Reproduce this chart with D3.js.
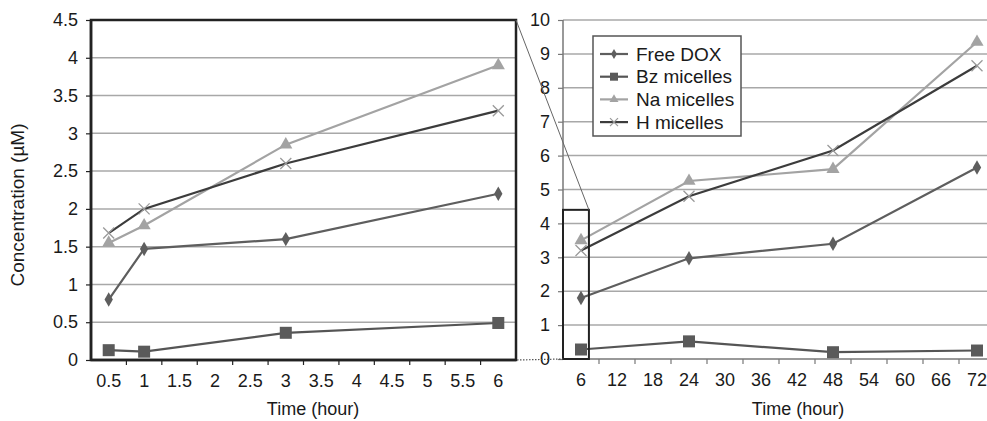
<!DOCTYPE html>
<html>
<head>
<meta charset="utf-8">
<script src="https://cdn.jsdelivr.net/npm/d3@7"></script>
<style>
  body { margin: 0; background: #fff; }
  svg { display: block; font-family: "Liberation Sans", Arial, sans-serif; }
  .tick text { fill: #1a1a1a; }
</style>
</head>
<body>
<div id="chart"></div>
<script>
// categories on each panel (Excel-style category axes)
const leftCats = ["0.5","1","1.5","2","2.5","3","3.5","4","4.5","5","5.5","6"];
const rightCats = ["6","12","18","24","30","36","42","48","54","60","66","72"];

// sampled time points
const leftTimes = ["0.5","1","3","6"];
const rightTimes = ["6","24","48","72"];

// concentrations (uM)
const freeDoxLeft = [0.8, 1.47, 1.6, 2.2];
const bzLeft      = [0.13, 0.11, 0.36, 0.49];
const naLeft      = [1.55, 1.78, 2.85, 3.9];
const hLeft       = [1.68, 2.0, 2.6, 3.3];

const freeDoxRight = [1.8, 2.97, 3.4, 5.65];
const bzRight      = [0.28, 0.52, 0.2, 0.25];
const naRight      = [3.5, 5.25, 5.6, 9.35];
const hRight       = [3.2, 4.8, 6.15, 8.65];

const seriesNames = ["Free DOX", "Bz micelles", "Na micelles", "H micelles"];

const leftYTicks = [0,0.5,1,1.5,2,2.5,3,3.5,4,4.5];
const rightYTicks = [0,1,2,3,4,5,6,7,8,9,10];

const styles = [
  {line: "#5e5e5e", marker: "diamond", fill: "#5e5e5e", w: 2.2},
  {line: "#555555", marker: "square",  fill: "#5a5a5a", w: 2.2},
  {line: "#a3a3a3", marker: "triangle",fill: "#a3a3a3", w: 2.2},
  {line: "#3c3c3c", marker: "cross",   fill: "#9a9a9a", w: 2.2}
];

const W = 987, H = 421;
const svg = d3.select("#chart").append("svg")
    .attr("width", W).attr("height", H);

svg.append("rect").attr("width", W).attr("height", H).attr("fill", "#fff");

function drawMarker(g, type, x, y, fill) {
  if (type === "diamond") {
    g.append("path").attr("d", d3.symbol(d3.symbolDiamond, 60)())
      .attr("transform", `translate(${x},${y})`).attr("fill", fill);
  } else if (type === "square") {
    g.append("rect").attr("x", x - 6).attr("y", y - 6)
      .attr("width", 12).attr("height", 12).attr("fill", fill);
  } else if (type === "triangle") {
    g.append("path").attr("d", d3.symbol(d3.symbolTriangle, 75)())
      .attr("transform", `translate(${x},${y})`).attr("fill", fill);
  } else {
    g.append("path").attr("d", `M${x-5.5},${y-5.5}L${x+5.5},${y+5.5}M${x-5.5},${y+5.5}L${x+5.5},${y-5.5}`)
      .attr("stroke", fill).attr("stroke-width", 1.3).attr("fill", "none");
  }
}

function panel(opts) {
  const x = d3.scaleBand().domain(opts.cats).range(opts.xr).paddingInner(0).paddingOuter(0);
  const y = d3.scaleLinear().domain(opts.yd).range([opts.y0, opts.y1]);
  const g = svg.append("g");

  // gridlines
  g.append("g").selectAll("line").data(opts.yTicks.filter(d => d > 0)).enter().append("line")
    .attr("x1", opts.xr[0]).attr("x2", opts.xr[1])
    .attr("y1", d => y(d)).attr("y2", d => y(d))
    .attr("stroke", "#a8a8a8").attr("stroke-width", 1.5);

  const yAxis = d3.axisLeft(y).tickValues(opts.yTicks).tickSize(5).tickPadding(8)
    .tickFormat(d3.format(""));
  const gy = g.append("g").attr("transform", `translate(${opts.xr[0]},0)`).call(yAxis);
  gy.select(".domain").remove();
  gy.selectAll(".tick line").attr("stroke", opts.axisColor).attr("stroke-width", 1.2);
  gy.selectAll(".tick text").attr("font-size", 18).attr("font-family", "Liberation Sans, Arial, sans-serif");

  const xAxis = d3.axisBottom(x).tickSize(0).tickPadding(14);
  const gx = g.append("g").attr("transform", `translate(0,${opts.y0})`).call(xAxis);
  gx.select(".domain").remove();
  gx.selectAll(".tick text").attr("font-size", 18).attr("font-family", "Liberation Sans, Arial, sans-serif");
  // category boundary ticks
  g.append("g").selectAll("line").data(opts.cats.slice(1)).enter().append("line")
    .attr("x1", d => x(d)).attr("x2", d => x(d))
    .attr("y1", opts.y0).attr("y2", opts.y0 + 5)
    .attr("stroke", opts.axisColor).attr("stroke-width", 1.2);

  // axis lines
  g.append("line").attr("x1", opts.xr[0]).attr("x2", opts.xr[0])
    .attr("y1", opts.y1).attr("y2", opts.y0)
    .attr("stroke", opts.axisColor).attr("stroke-width", opts.axisW);
  g.append("line").attr("x1", opts.xr[0]).attr("x2", opts.xr[1])
    .attr("y1", opts.y0).attr("y2", opts.y0)
    .attr("stroke", opts.axisColor).attr("stroke-width", opts.axisW);

  const cx = d => x(d) + x.bandwidth() / 2;
  const line = d3.line().x(d => cx(d[0])).y(d => y(d[1]));

  opts.series.forEach((vals, i) => {
    const pts = opts.times.map((t, j) => [t, vals[j]]);
    const s = styles[i];
    g.append("path").datum(pts).attr("d", line)
      .attr("fill", "none").attr("stroke", s.line).attr("stroke-width", s.w);
    pts.forEach(p => drawMarker(g, s.marker, cx(p[0]), y(p[1]), s.fill));
  });

  g.append("text").attr("x", opts.titleX).attr("y", 415)
    .attr("text-anchor", "middle").attr("font-size", 18).attr("fill", "#1a1a1a")
    .text("Time (hour)");

  return {x, y, g};
}

const L = panel({
  cats: leftCats, xr: [91, 516], yd: [0, 4.5], y0: 360, y1: 20,
  yTicks: leftYTicks, times: leftTimes,
  series: [freeDoxLeft, bzLeft, naLeft, hLeft],
  axisColor: "#222", axisW: 2.5, titleX: 313
});

// thick box around the left (zoomed) panel
svg.append("rect").attr("x", 91).attr("y", 20).attr("width", 425).attr("height", 340)
  .attr("fill", "none").attr("stroke", "#222").attr("stroke-width", 2.5);

const R = panel({
  cats: rightCats, xr: [563, 995], yd: [0, 10], y0: 359, y1: 20,
  yTicks: rightYTicks, times: rightTimes,
  series: [freeDoxRight, bzRight, naRight, hRight],
  axisColor: "#777", axisW: 1.5, titleX: 798
});

// zoom box around the first 6 h category of the right panel
const boxL = R.x.range()[0];
const boxR = R.x("6") + R.x.bandwidth() * 0.72;
const boxTop = R.y(4.4);
svg.append("rect").attr("x", boxL).attr("y", boxTop)
  .attr("width", boxR - boxL).attr("height", R.y(0) - boxTop)
  .attr("fill", "none").attr("stroke", "#222").attr("stroke-width", 2);

// connector lines
svg.append("line").attr("x1", 516).attr("y1", 20).attr("x2", boxR).attr("y2", boxTop)
  .attr("stroke", "#666").attr("stroke-width", 1);
svg.append("line").attr("x1", 517).attr("y1", 360).attr("x2", boxL).attr("y2", R.y(0))
  .attr("stroke", "#555").attr("stroke-width", 1.2).attr("stroke-dasharray", "1.5,1.5");

// y title
svg.append("text").attr("transform", "translate(24,205) rotate(-90)")
  .attr("text-anchor", "middle").attr("font-size", 19).attr("fill", "#1a1a1a")
  .text("Concentration (µM)");

// legend
const lg = svg.append("g");
lg.append("rect").attr("x", 593).attr("y", 36).attr("width", 148).attr("height", 100)
  .attr("fill", "#fff").attr("stroke", "#555").attr("stroke-width", 1.5);
seriesNames.forEach((name, i) => {
  const yy = 54 + i * 22.7;
  const s = styles[i];
  lg.append("line").attr("x1", 600).attr("x2", 628).attr("y1", yy).attr("y2", yy)
    .attr("stroke", s.line).attr("stroke-width", s.w);
  const mg = lg.append("g");
  if (s.marker === "square") {
    mg.append("rect").attr("x", 610).attr("y", yy - 4).attr("width", 8).attr("height", 8).attr("fill", s.fill);
  } else if (s.marker === "diamond") {
    mg.append("path").attr("d", d3.symbol(d3.symbolDiamond, 30)()).attr("transform", `translate(614,${yy})`).attr("fill", s.fill);
  } else if (s.marker === "triangle") {
    mg.append("path").attr("d", d3.symbol(d3.symbolTriangle, 35)()).attr("transform", `translate(614,${yy})`).attr("fill", s.fill);
  } else {
    mg.append("path").attr("d", `M610,${yy-4}L618,${yy+4}M610,${yy+4}L618,${yy-4}`)
      .attr("stroke", s.fill).attr("stroke-width", 1.2);
  }
  lg.append("text").attr("x", 636).attr("y", yy).attr("dy", "0.35em")
    .attr("font-size", 19).attr("fill", "#1a1a1a").text(name);
});
</script>
</body>
</html>
